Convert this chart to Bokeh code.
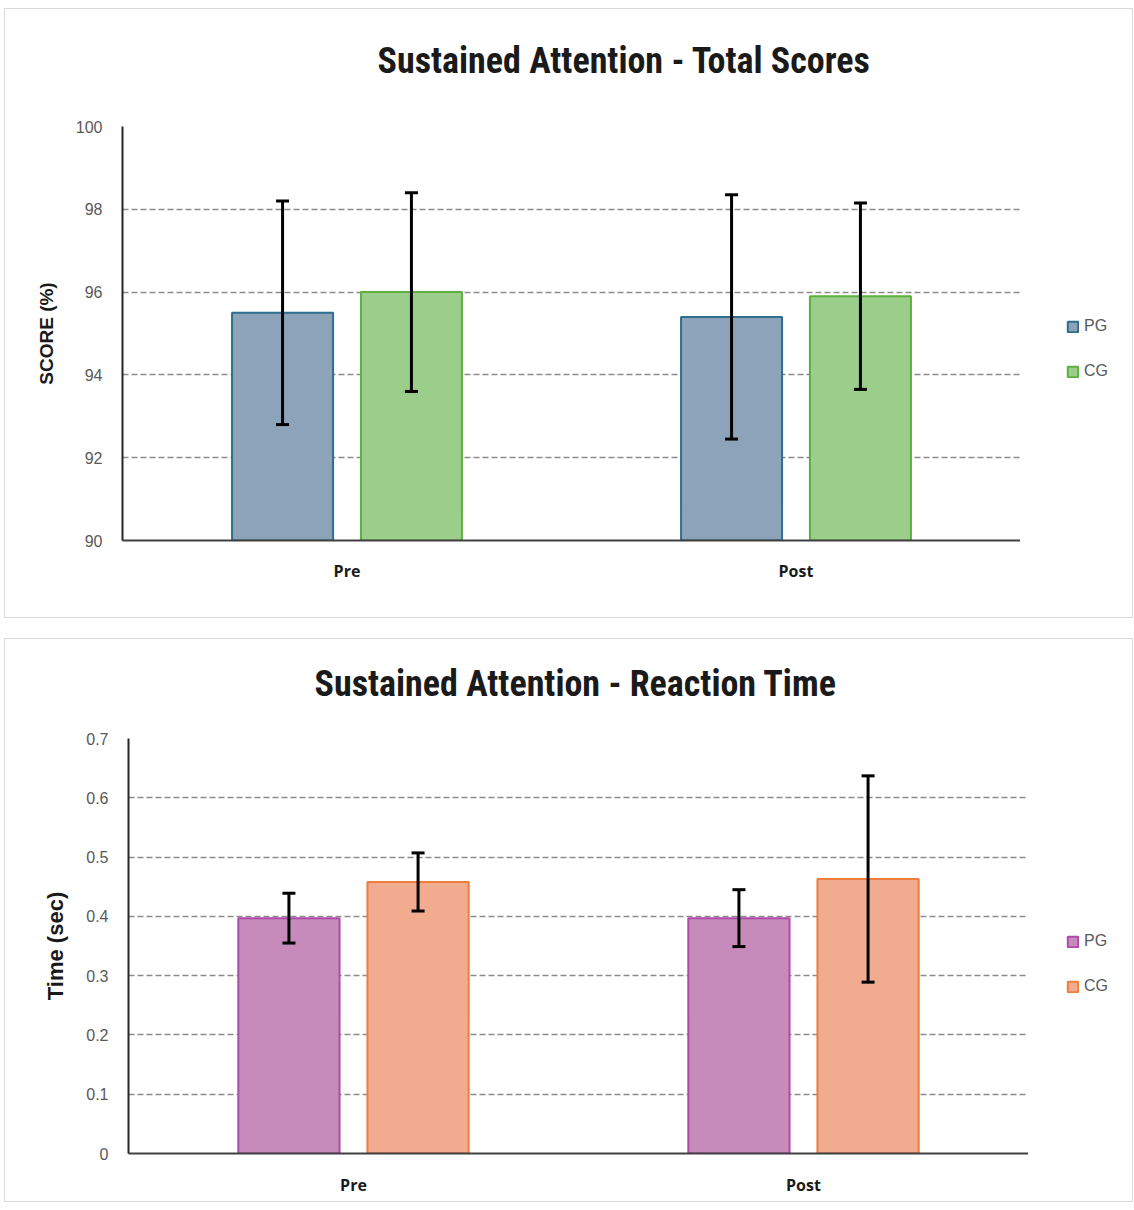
from bokeh.plotting import figure
from bokeh.models import (ColumnDataSource, Range1d, Whisker, TeeHead, Legend,
                          LegendItem, FixedTicker, Title)
from bokeh.transform import dodge
from bokeh.layouts import row
from bokeh.embed import file_html
from bokeh.resources import INLINE

phases = ["Pre", "Post"]
groups = ["PG", "CG"]

score_pg = [95.5, 95.4]
score_pg_sd = [2.7, 2.95]
score_cg = [96.0, 95.9]
score_cg_sd = [2.4, 2.25]
score_ticks = [90, 92, 94, 96, 98, 100]

rt_pg = [0.397, 0.397]
rt_pg_sd = [0.042, 0.048]
rt_cg = [0.458, 0.463]
rt_cg_sd = [0.049, 0.174]
rt_ticks = [0, 0.1, 0.2, 0.3, 0.4, 0.5, 0.6, 0.7]
rt_tick_labels = ["0", "0.1", "0.2", "0.3", "0.4", "0.5", "0.6", "0.7"]

TICK_FONT = "Liberation Sans"
TITLE_FONT = "'Roboto Condensed', 'DejaVu Sans Condensed', sans-serif"
OFF = 0.1435
BW = 0.225


def make_source(pg, pg_sd, cg, cg_sd):
    return ColumnDataSource(dict(
        phase=phases, pg=pg, cg=cg,
        pg_up=[v + s for v, s in zip(pg, pg_sd)],
        pg_lo=[v - s for v, s in zip(pg, pg_sd)],
        cg_up=[v + s for v, s in zip(cg, cg_sd)],
        cg_lo=[v - s for v, s in zip(cg, cg_sd)],
    ))


def add_bars(p, src, y0, fills, lines):
    r_pg = p.vbar(x=dodge("phase", -OFF, range=p.x_range), top="pg", bottom=y0,
                  width=BW, source=src, fill_color=fills[0], line_color=lines[0],
                  line_width=2)
    r_cg = p.vbar(x=dodge("phase", OFF, range=p.x_range), top="cg", bottom=y0,
                  width=BW, source=src, fill_color=fills[1], line_color=lines[1],
                  line_width=2)
    return r_pg, r_cg


def make_chart(title, ylabel, ylabel_size, ylabel_standoff, pg, pg_sd, cg, cg_sd,
               y0, y1, ticks, tick_labels, fills, lines, fw, fh, left, leg_w,
               top, bottom, title_offset, spacer, x_standoff, legend_loc, margin_css):
    src = make_source(pg, pg_sd, cg, cg_sd)
    h = top + fh + bottom
    p = figure(x_range=phases, y_range=Range1d(y0, y1),
               width=left + fw, height=h, frame_width=fw, frame_height=fh,
               output_backend="svg", toolbar_location=None,
               min_border_left=left, min_border_right=0,
               min_border_top=top, min_border_bottom=bottom)
    p.outline_line_color = None
    p.background_fill_color = "white"
    p.border_fill_color = "white"

    # invisible spacer between the title and the plot area
    p.add_layout(Title(text=" ", text_font_size="1px", standoff=spacer), "above")

    p.title.text = title
    p.title.align = "left"
    p.title.offset = title_offset
    p.title.text_font = TITLE_FONT
    p.title.text_font_size = "36px"
    p.title.text_font_style = "bold"
    p.title.text_color = "#1a1a1a"
    p.title.standoff = 0

    add_bars(p, src, y0, fills, lines)

    for key, o in (("pg", -OFF), ("cg", OFF)):
        wk = Whisker(base=dodge("phase", o, range=p.x_range), upper=key + "_up",
                     lower=key + "_lo", source=src, line_color="black", line_width=3,
                     level="overlay",
                     upper_head=TeeHead(size=13, line_width=3, line_color="black"),
                     lower_head=TeeHead(size=13, line_width=3, line_color="black"))
        p.add_layout(wk)

    p.xgrid.grid_line_color = None
    p.ygrid.grid_line_color = "#8c8c8c"
    p.ygrid.grid_line_dash = "6 3"
    p.ygrid.grid_line_width = 1.5
    p.yaxis.ticker = FixedTicker(ticks=ticks)
    p.yaxis.major_label_overrides = {t: l for t, l in zip(ticks, tick_labels)}
    p.yaxis.major_tick_line_color = None
    p.yaxis.minor_tick_line_color = None
    p.yaxis.axis_line_color = "#262626"
    p.yaxis.axis_line_width = 2
    p.yaxis.major_label_text_font = TICK_FONT
    p.yaxis.major_label_text_font_size = "16px"
    p.yaxis.major_label_text_color = "#595959"
    p.yaxis.major_label_standoff = 14
    p.yaxis.axis_label = ylabel
    p.yaxis.axis_label_text_font = TICK_FONT
    p.yaxis.axis_label_text_font_style = "bold"
    p.yaxis.axis_label_text_font_size = ylabel_size
    p.yaxis.axis_label_text_color = "#1a1a1a"
    p.yaxis.axis_label_standoff = ylabel_standoff

    p.xaxis.major_tick_line_color = None
    p.xaxis.minor_tick_line_color = None
    p.xaxis.axis_line_color = "#404040"
    p.xaxis.axis_line_width = 2
    p.xaxis.major_label_text_font = "Open Sans"
    p.xaxis.major_label_text_font_style = "bold"
    p.xaxis.major_label_text_font_size = "16px"
    p.xaxis.major_label_text_color = "#1a1a1a"
    p.xaxis.major_label_standoff = x_standoff

    # legend panel to the right of the plot area (its bar renderers are hidden)
    q = figure(x_range=phases, y_range=Range1d(y0, y1),
               width=leg_w, height=h, frame_width=leg_w, frame_height=fh,
               output_backend="svg", toolbar_location=None,
               x_axis_location=None, y_axis_location=None,
               min_border_left=0, min_border_right=0,
               min_border_top=top, min_border_bottom=bottom)
    q.outline_line_color = None
    q.grid.grid_line_color = None
    q.background_fill_color = "white"
    q.border_fill_color = "white"
    q_pg, q_cg = add_bars(q, src, y0, fills, lines)
    q_pg.visible = False
    q_cg.visible = False
    legend = Legend(items=[LegendItem(label=groups[0], renderers=[q_pg]),
                           LegendItem(label=groups[1], renderers=[q_cg])],
                    location=legend_loc, border_line_color=None,
                    background_fill_alpha=0, glyph_width=13, glyph_height=13,
                    label_standoff=5, spacing=25, label_height=20,
                    label_text_font=TICK_FONT, label_text_font_size="16px",
                    label_text_color="#595959", click_policy="none")
    q.add_layout(legend, "center")

    return row(p, q, spacing=0,
               styles={"border": "1px solid #d9d9d9", "margin": margin_css})


c1 = make_chart("Sustained Attention - Total Scores", "SCORE (%)", "19px", 16,
                score_pg, score_pg_sd, score_cg, score_cg_sd, 90, 100,
                score_ticks, [str(t) for t in score_ticks],
                ["#8ca3b9", "#9bcd8b"], ["#2e6e8e", "#5cb040"],
                898, 414, 117, 112, 117, 77, 255, 42, 13, (46, 159), "8px 0 0 4px")
c2 = make_chart("Sustained Attention - Reaction Time", "Time (sec)", "22px", 15,
                rt_pg, rt_pg_sd, rt_cg, rt_cg_sd, 0, 0.7,
                rt_ticks, rt_tick_labels,
                ["#c68abb", "#f1ab8f"], ["#b04aa8", "#ee7d3e"],
                900, 415, 123, 104, 99, 48, 186, 31, 14, (38, 157), "20px 0 0 4px")

open("out.html", "w").write(file_html([c1, c2], INLINE))
